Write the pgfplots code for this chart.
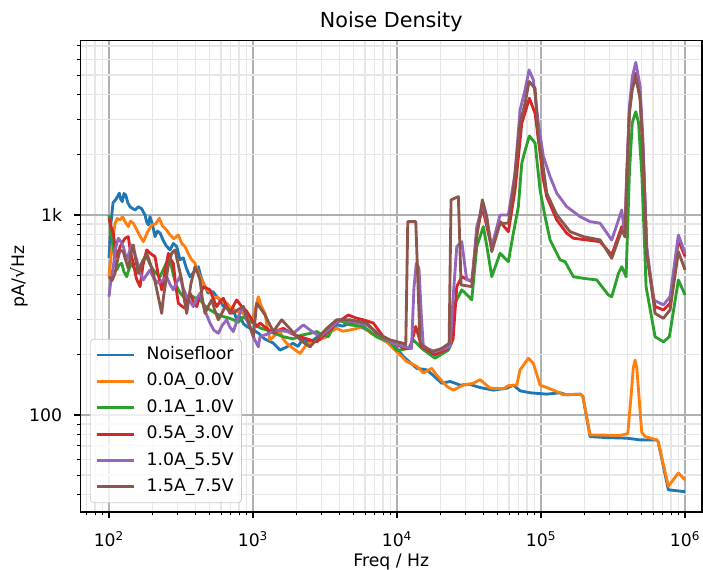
\documentclass[border=0pt]{standalone}
\usepackage{fontspec}
\setmainfont{DejaVu Sans}
\usepackage{pgfplots}
\pgfplotsset{compat=1.18}
\definecolor{c0}{HTML}{1F77B4}
\definecolor{c1}{HTML}{FF7F0E}
\definecolor{c2}{HTML}{2CA02C}
\definecolor{c3}{HTML}{D62728}
\definecolor{c4}{HTML}{9467BD}
\definecolor{c5}{HTML}{8C564B}
\definecolor{majgrid}{HTML}{B0B0B0}
\definecolor{mingrid}{HTML}{E6E6E6}
\definecolor{leggray}{HTML}{CCCCCC}
\begin{document}
\begin{tikzpicture}
\begin{axis}[
 name=ax,
 scale only axis, width=360.5pt, height=273.4pt,
 xmode=log, ymode=log,
 xmin=63.4, xmax=1.31e6, ymin=32.7, ymax=7440,
 xtick={100,1000,10000,100000,1000000},
 xticklabels={10\textsuperscript{2},10\textsuperscript{3},10\textsuperscript{4},10\textsuperscript{5},10\textsuperscript{6}},
 minor xtick={70,80,90,200,300,400,500,600,700,800,900,2000,3000,4000,5000,6000,7000,8000,9000,20000,30000,40000,50000,60000,70000,80000,90000,200000,300000,400000,500000,600000,700000,800000,900000},
 ytick={100,1000}, yticklabels={100,1k},
 minor ytick={40,50,60,70,80,90,200,300,400,500,600,700,800,900,2000,3000,4000,5000,6000,7000},
 grid=both,
 major grid style={color=majgrid, line width=0.8pt},
 minor grid style={color=mingrid, line width=0.8pt},
 axis line style={line width=0.8pt, black},
 tick align=outside, tick pos=left,
 major tick length=3.5pt, minor tick length=2pt,
 major tick style={line width=0.8pt, black},
 minor tick style={line width=0.6pt, black},
 xticklabel style={anchor=base, yshift=-16.5pt},
 yticklabel style={anchor=east, inner sep=0pt, xshift=-7pt},
 title={Noise Density},
 title style={at={(axis description cs:0.5,1)}, anchor=base, yshift=1.4pt, font=\fontsize{12pt}{14pt}\selectfont},
 xlabel={Freq / Hz},
 xlabel style={at={(axis description cs:0.5,-0.1103)}, anchor=base, yshift=-1.5pt},
 ylabel={pA/√Hz},
 ylabel style={at={(axis description cs:-0.0909,0.5)}, anchor=base, rotate=0},
 legend cell align=left,
 legend image code/.code={\draw[#1] (0pt,0pt) -- (21.5pt,0pt);},
 legend style={at={(axis description cs:0.0153,0.019)}, anchor=south west,
   draw=leggray, rounded corners=2pt, fill=white, fill opacity=0.8, text opacity=1,
   inner xsep=3pt, inner ysep=3pt, row sep=3pt, column sep=5pt,
   nodes={inner sep=1.5pt, text height=7.3pt, text depth=2pt},
   font=\fontsize{10pt}{12pt}\selectfont},
]
\addplot[c0, line width=1.65pt, line join=round] coordinates {(100,610) (103,900) (106.6,1150) (112,1200) (117.9,1285) (120.5,1200) (123.7,1166) (127,1280) (130.6,1259) (135,1150) (139.9,1100) (145,1080) (151.6,1059) (160,1100) (168.7,1072) (177.8,1000) (182,930) (187.5,891) (192.6,981) (200,900) (208.6,779) (217,830) (226.1,812) (237.1,750) (250,700) (265.2,668) (280,720) (295.2,694) (311.2,596) (328.1,610) (345,540) (365.2,490) (390,520) (417,551) (435,490) (451.8,457) (470,430) (487,407) (527.5,413) (560,390) (590,376) (620,350) (656.8,362) (690,330) (729.8,335) (770,300) (812.4,310) (860,285) (904.3,277) (1005,266) (1100,255) (1200,240) (1377,229) (1540,211) (1700,218) (1896,228) (2050,220) (2236,241) (2420,230) (2623,237) (2900,250) (3250,261) (3500,270) (3814,282) (4200,278) (4716,288) (5200,280) (5834,272) (6500,260) (7228,246) (8483,232) (9951,215) (11060,196) (12310,183) (13710,171) (16080,168) (17780,158) (20440,144) (23340,147) (27390,141) (32130,142) (37710,137) (46660,133) (57780,136) (64220,141) (71480,132) (83860,129) (109500,127) (135500,129) (150800,126) (186600,127) (195000,124) (218900,77.9) (286000,77) (393600,76.5) (487000,75) (636000,74.9) (650000,73.5) (765600,42.2) (1000000,41.3)};
\addlegendentry{Noisefloor}
\addplot[c1, line width=1.65pt, line join=round] coordinates {(100,491) (105,700) (110.1,909) (114,960) (119.2,944) (124,980) (129.2,926) (136.1,874) (141,930) (147.5,909) (155,850) (163,790) (173.1,735) (185,820) (197.9,891) (210,900) (223.6,963) (235,880) (248,850) (265.2,794) (282,760) (302.9,794) (320,720) (337.2,694) (355,640) (375.3,596) (395.6,575) (410,530) (428.5,491) (450,460) (477,422) (510,410) (535,380) (559.6,390) (600,375) (656.8,362) (700,345) (760,330) (856.4,322) (930,300) (1005,310) (1050,350) (1088,390) (1140,350) (1212,322) (1260,270) (1312,237) (1420,250) (1540,261) (1620,240) (1714,228) (1900,215) (2121,203) (2350,225) (2623,232) (2900,238) (3250,246) (3500,262) (3814,271) (4200,262) (4716,266) (5200,270) (5834,277) (6500,258) (7228,246) (8483,232) (10210,203) (11680,185) (13710,175) (15230,162) (17420,171) (18870,158) (22140,139) (24600,133) (28870,141) (33880,144) (37710,150) (44250,136) (54730,135) (59290,140) (67800,141) (71480,168) (81640,192) (88420,181) (98420,141) (112400,136) (121700,133) (142900,126) (186600,127) (195000,124) (218900,79.4) (353800,79) (400000,80.5) (420000,120) (437000,172) (449600,188) (462000,172) (480000,120) (500000,82) (527500,77.9) (636000,75) (650000,73.5) (765600,44) (898200,51.2) (1000000,47.3)};
\addlegendentry{0.0A\_0.0V}
\addplot[c2, line width=1.65pt, line join=round] coordinates {(100,1000) (103,820) (107.1,694) (110,600) (113.1,531) (117,560) (122.5,573) (127,520) (132.7,491) (138,540) (143.8,573) (150,540) (155.8,511) (165,560) (175,600) (182.7,619) (192,570) (203,531) (214,510) (226.1,491) (240,540) (252,580) (265.2,596) (280,500) (295.2,438) (310,410) (328.1,390) (345,380) (365.2,398) (395,385) (428.5,376) (465,350) (502.8,335) (560,320) (622.1,310) (680,305) (729.8,299) (790,290) (856.4,310) (930,295) (1005,288) (1120,272) (1245,266) (1420,255) (1623,246) (1900,240) (2150,250) (2450,255) (2770,261) (3050,250) (3334,246) (3600,275) (3912,299) (4300,290) (4716,282) (5834,277) (7228,246) (8943,232) (10000,210) (12000,215) (12980,237) (14840,215) (18360,192) (22720,211) (24000,230) (25280,362) (28140,422) (30480,400) (33020,376) (35770,694) (39750,874) (42000,700) (45470,491) (51920,643) (59290,584) (64000,800) (69560,1100) (73450,1812) (77420,2100) (82940,2483) (90860,2290) (98420,1334) (106600,981) (115500,750) (135500,596) (146800,584) (167600,491) (196700,482) (243700,473) (293400,398) (309700,390) (344800,511) (363500,551) (389300,491) (400000,900) (410500,1616) (430000,2900) (454600,3281) (475000,2900) (500400,1616) (520000,800) (536100,438) (619000,246) (707200,232) (778000,246) (898200,473) (1000000,398)};
\addlegendentry{0.1A\_1.0V}
\addplot[c3, line width=1.65pt, line join=round] coordinates {(100,963) (103,880) (107.1,810) (110,700) (113.1,619) (120,700) (129.2,765) (136.1,779) (141,650) (147.5,573) (155,480) (164.2,438) (172,560) (182.7,668) (195,640) (208.6,619) (220,500) (232.3,422) (245,520) (258.1,643) (268,600) (279.6,573) (290,450) (302.9,362) (320,350) (337.2,341) (350,380) (365.2,406) (385,370) (406.4,348) (430,400) (451.8,438) (475,430) (502.8,422) (530,380) (559.6,348) (590,370) (622.1,383) (655,350) (692.2,322) (730,350) (770.5,376) (830,350) (904.3,329) (980,300) (1061,277) (1118,288) (1250,270) (1384,256) (1500,265) (1623,271) (1850,255) (2121,246) (2450,238) (2770,232) (3300,260) (3814,288) (4589,316) (5200,305) (5834,299) (6845,288) (8034,246) (9951,224) (11370,215) (12310,215) (13490,277) (14840,219) (18360,200) (22720,215) (24500,240) (25980,438) (28140,491) (33020,464) (35770,810) (39120,1100) (45470,681) (51920,926) (59290,825) (65980,1334) (73450,2872) (82940,3835) (90860,3225) (103800,1496) (109500,1235) (128500,944) (150800,810) (167600,765) (207700,750) (256900,735) (309700,631) (363500,874) (383100,779) (392000,1400) (410500,3300) (430000,4400) (454600,5104) (487000,3900) (510000,2100) (542000,643) (619000,348) (707200,335) (786700,362) (898200,750) (1000000,619)};
\addlegendentry{0.5A\_3.0V}
\addplot[c4, line width=1.65pt, line join=round] coordinates {(100,390) (103,470) (107.1,551) (111,680) (116,765) (120,740) (125.7,694) (132.7,596) (138,650) (143.8,708) (150,650) (155.8,596) (163,520) (173.1,473) (182,500) (192.6,531) (205,480) (220,455) (235,470) (251.6,491) (265,450) (279.6,422) (295,460) (311.2,491) (328,430) (346.4,390) (365,370) (385,348) (405,380) (428.5,406) (465,330) (502.8,288) (535,265) (574.1,256) (610,280) (656.8,299) (690,275) (729.8,261) (790,310) (856.4,348) (900,300) (953.2,277) (1020,240) (1088,219) (1118,246) (1280,255) (1460,266) (1680,262) (1905,256) (2236,282) (2550,262) (2920,246) (3400,270) (4019,299) (4972,292) (6161,282) (7620,251) (9426,228) (11370,219) (12600,215) (13100,430) (13600,573) (14200,540) (14800,300) (15230,219) (18360,207) (23340,219) (24600,400) (25980,694) (28140,735) (30480,473) (33340,473) (35770,874) (39750,1145) (45470,694) (51920,1000) (59290,1000) (65980,1616) (71480,3350) (77420,4217) (82540,5309) (88420,4732) (95790,2872) (103800,1958) (115500,1554) (128500,1284) (150800,1100) (186600,981) (218900,926) (256900,909) (309700,750) (363500,1059) (383100,779) (392000,1500) (410500,3469) (430000,4900) (454600,5796) (487000,4400) (510000,2371) (542000,694) (602500,376) (707200,355) (786700,390) (898200,794) (1000000,643)};
\addlegendentry{1.0A\_5.5V}
\addplot[c5, line width=1.65pt, line join=round] coordinates {(100,491) (105,470) (110.1,511) (115,600) (119.2,668) (125.7,655) (130,600) (136.1,541) (142,640) (147.5,708) (153,600) (159.8,511) (170,580) (182.7,643) (192,580) (203,511) (215,420) (232.3,322) (238,380) (244.8,438) (258,560) (272.5,643) (287.3,668) (303,560) (319.8,473) (333,380) (346.4,322) (370,450) (395.6,551) (410,520) (428.5,473) (445,380) (464.2,322) (490,350) (516.6,376) (545,330) (574.1,299) (605,320) (639.2,348) (675,335) (711.3,322) (780,335) (856.4,348) (930,290) (1005,246) (1061,362) (1130,340) (1212,316) (1300,285) (1384,261) (1480,280) (1582,299) (1800,270) (2011,246) (2250,230) (2488,219) (2850,245) (3250,271) (3814,299) (4716,299) (6161,288) (7228,256) (8943,237) (11060,228) (11500,224) (11870,926) (13490,926) (14450,228) (17420,207) (20440,215) (23000,228) (23710,1189) (26660,1235) (27830,447) (33020,438) (35770,779) (39120,1189) (41970,981) (45470,655) (51920,909) (59290,909) (64220,1334) (71480,2872) (77420,3613) (82540,4650) (90860,4300) (95790,2400) (101100,1958) (109500,1284) (128500,1000) (159000,825) (196700,779) (256900,750) (309700,607) (363500,841) (383100,779) (392000,1400) (410500,3225) (430000,4250) (454600,4916) (487000,3800) (510000,2100) (542000,643) (619000,322) (707200,304) (786700,335) (898200,655) (1000000,531)};
\addlegendentry{1.5A\_7.5V}
\end{axis}
\pgfresetboundingbox
\path[use as bounding box] ([xshift=-46.7pt,yshift=-33.1pt]ax.south west) rectangle ([xshift=0.6pt,yshift=23.6pt]ax.north east);
\end{tikzpicture}
\end{document}
